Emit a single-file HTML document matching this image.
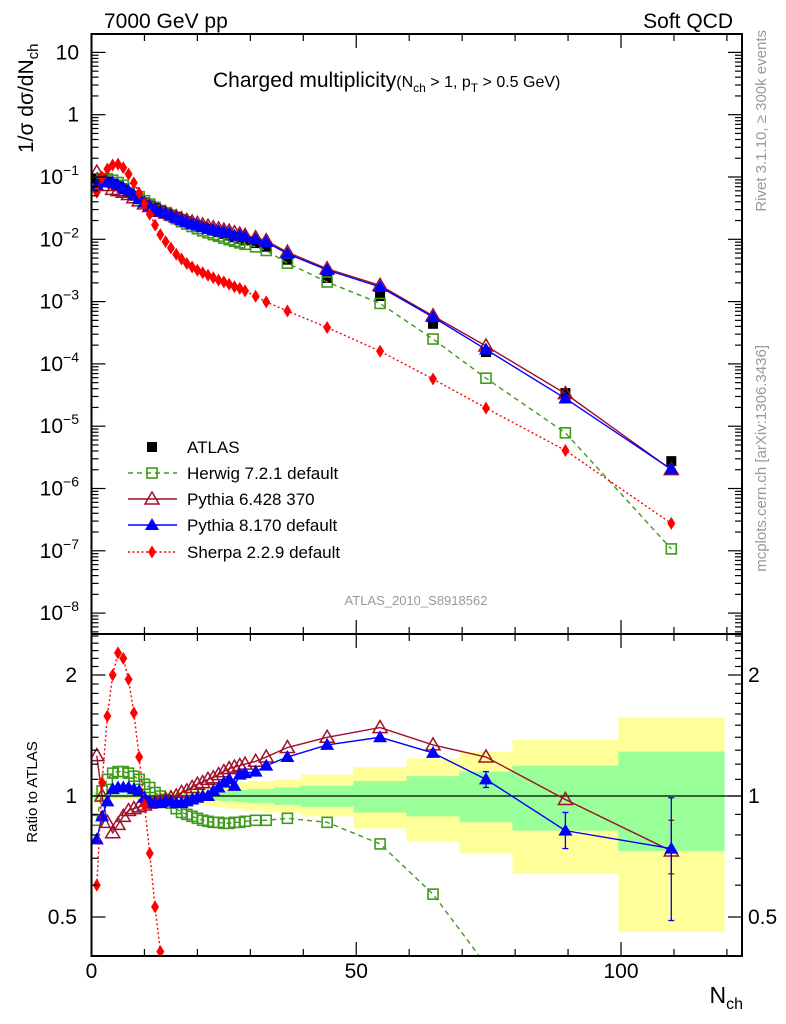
<!DOCTYPE html>
<html><head><meta charset="utf-8"><style>
html,body{margin:0;padding:0;background:#fff;width:786px;height:1024px;overflow:hidden;}
svg{display:block;font-family:"Liberation Sans",sans-serif;}
</style></head><body>
<svg id="c" width="786" height="1024" viewBox="0 0 786 1024" xmlns="http://www.w3.org/2000/svg">
<defs>
<clipPath id="cpTop"><rect x="91.5" y="34" width="650.5" height="600"/></clipPath>
<clipPath id="cpRat"><rect x="91.5" y="634" width="650.5" height="322"/></clipPath>
</defs>
<g id="bands" clip-path="url(#cpRat)"></g>
<g id="grid"></g>
<g id="topMarks" clip-path="url(#cpTop)"></g>
<g id="ratMarks" clip-path="url(#cpRat)"></g>
<g id="axes"></g>
<text x="104" y="28" font-size="21">7000 GeV pp</text>
<text x="733" y="28" font-size="21" text-anchor="end">Soft QCD</text>
<text x="213" y="87" font-size="21">Charged multiplicity<tspan font-size="16">(N</tspan><tspan font-size="12" dy="5">ch</tspan><tspan font-size="16" dy="-5"> &gt; 1, p</tspan><tspan font-size="12" dy="5">T</tspan><tspan font-size="16" dy="-5"> &gt; 0.5 GeV)</tspan></text>
<text transform="translate(33,153) rotate(-90)" font-size="21">1/σ dσ/dN<tspan font-size="15" dy="5">ch</tspan></text>
<text transform="translate(37,792) rotate(-90)" font-size="15" text-anchor="middle">Ratio to ATLAS</text>
<text transform="translate(766,30) rotate(-90)" font-size="15" fill="#999" text-anchor="end">Rivet 3.1.10, ≥ 300k events</text>
<text transform="translate(766,345) rotate(-90)" font-size="15" fill="#999" text-anchor="end">mcplots.cern.ch [arXiv:1306.3436]</text>
<text x="416" y="605" font-size="13" fill="#999" text-anchor="middle">ATLAS_2010_S8918562</text>
<text x="743" y="1003" font-size="23" text-anchor="end">N<tspan font-size="16" dy="6">ch</tspan></text>
<g id="legend"></g>
</svg>
<script>
const nch = [1,2,3,4,5,6,7,8,9,10,11,12,13,14,15,16,17,18,19,20,21,22,23,24,25,26,27,28,29,31,33,37,44.5,54.5,64.5,74.5,89.5,109.5];
const binLo = [0.5,1.5,2.5,3.5,4.5,5.5,6.5,7.5,8.5,9.5,10.5,11.5,12.5,13.5,14.5,15.5,16.5,17.5,18.5,19.5,20.5,21.5,22.5,23.5,24.5,25.5,26.5,27.5,28.5,29.5,32.5,34.5,39.5,49.5,59.5,69.5,79.5,99.5];
const binHi = [1.5,2.5,3.5,4.5,5.5,6.5,7.5,8.5,9.5,10.5,11.5,12.5,13.5,14.5,15.5,16.5,17.5,18.5,19.5,20.5,21.5,22.5,23.5,24.5,25.5,26.5,27.5,28.5,29.5,32.5,34.5,39.5,49.5,59.5,69.5,79.5,99.5,119.5];
const atlas = [0.095,0.092,0.085,0.078,0.071,0.064,0.057,0.050,0.044,0.039,0.035,0.032,0.029,0.027,0.025,0.023,0.021,0.0195,0.018,0.0168,0.0157,0.0147,0.0138,0.013,0.0122,0.0115,0.0108,0.0102,0.0096,0.0087,0.0076,0.0047,0.0024,0.00123,0.00044,0.000155,0.000034,0.00000275];
const rHerwig = [0.87,1.03,1.1,1.14,1.15,1.15,1.14,1.12,1.1,1.07,1.05,1.02,1.0,0.98,0.96,0.93,0.91,0.9,0.89,0.88,0.87,0.865,0.86,0.86,0.855,0.855,0.86,0.86,0.865,0.87,0.87,0.88,0.86,0.76,0.57,0.38,0.23,0.039];
const rPythia6 = [1.26,1.0,0.86,0.81,0.85,0.89,0.92,0.93,0.94,0.95,0.96,0.965,0.97,0.98,0.99,1.0,1.02,1.03,1.05,1.07,1.08,1.1,1.11,1.13,1.15,1.17,1.18,1.19,1.2,1.22,1.25,1.32,1.40,1.48,1.34,1.25,0.98,0.73];
const rPythia8 = [0.78,0.89,0.97,1.04,1.05,1.05,1.05,1.04,1.03,0.99,0.97,0.96,0.96,0.97,0.97,0.96,0.96,0.97,0.98,0.99,1.0,1.0,1.03,1.05,1.08,1.1,1.06,1.13,1.14,1.15,1.19,1.25,1.34,1.40,1.28,1.10,0.82,0.74];
const rSherpa = [0.6,1.08,1.58,2.0,2.27,2.2,1.95,1.61,1.25,0.95,0.72,0.53,0.41,0.34,0.29,0.25,0.23,0.21,0.2,0.19,0.185,0.18,0.175,0.17,0.17,0.165,0.16,0.16,0.155,0.14,0.13,0.15,0.16,0.13,0.13,0.126,0.12,0.10];
const yelUp = [1.04,1.02,1.02,1.02,1.02,1.02,1.02,1.02,1.02,1.02,1.02,1.02,1.02,1.03,1.03,1.03,1.04,1.04,1.04,1.05,1.05,1.05,1.06,1.06,1.06,1.07,1.07,1.08,1.08,1.09,1.09,1.1,1.13,1.18,1.24,1.29,1.38,1.57];
const yelDn = [0.96,0.98,0.98,0.98,0.98,0.98,0.98,0.98,0.98,0.98,0.98,0.98,0.98,0.97,0.97,0.97,0.96,0.96,0.96,0.95,0.95,0.95,0.94,0.94,0.94,0.93,0.93,0.93,0.92,0.92,0.91,0.91,0.89,0.83,0.77,0.72,0.64,0.46];
const grnUp = [1.02,1.01,1.01,1.01,1.01,1.01,1.01,1.01,1.01,1.01,1.01,1.01,1.01,1.01,1.01,1.01,1.015,1.015,1.015,1.02,1.02,1.02,1.025,1.025,1.03,1.03,1.03,1.035,1.035,1.04,1.04,1.05,1.06,1.09,1.12,1.15,1.19,1.29];
const grnDn = [0.98,0.99,0.99,0.99,0.99,0.99,0.99,0.99,0.99,0.99,0.99,0.99,0.99,0.99,0.99,0.99,0.985,0.985,0.985,0.98,0.98,0.98,0.975,0.975,0.97,0.97,0.97,0.965,0.965,0.96,0.96,0.95,0.94,0.91,0.89,0.86,0.82,0.73];
const p8ErrIdx = [35,36,37];
const p8ErrLo = [1.05,0.74,0.49];
const p8ErrHi = [1.15,0.91,0.99];
const p6ErrIdx = [37];
const p6ErrLo = [0.64];
const p6ErrHi = [0.87];
const xTicks = [0,50,100];
const rTicksMajor = [0.5,1,2];

const NS = "http://www.w3.org/2000/svg";
const X = n => 91.5 + n * 5.295;
const YT = v => 177 - (Math.log10(v) + 1) * 62.3;
const YR = r => 796 - Math.log2(r) * 121;
function mk(tag, attrs, parent){
  const e = document.createElementNS(NS, tag);
  for (const k in attrs) e.setAttribute(k, attrs[k]);
  parent.appendChild(e); return e;
}
const C = {
  herwig:{col:"#3f9a1c", dash:"5,4", mk:"sqo"},
  p6:{col:"#a0102a", dash:"", mk:"trio"},
  p8:{col:"#0000ff", dash:"", mk:"trif"},
  sherpa:{col:"#ff0000", dash:"2,2.5", mk:"dia"}
};
function marker(g, type, x, y, col){
  let e;
  if (type==="sqo") e = mk("rect",{x:x-5,y:y-5,width:10,height:10,fill:"none",stroke:col,"stroke-width":1.6},g);
  else if (type==="sqf") e = mk("rect",{x:x-5,y:y-5,width:10,height:10,fill:col},g);
  else if (type==="trio") e = mk("polygon",{points:`${x},${y-7} ${x-7},${y+5} ${x+7},${y+5}`,fill:"none",stroke:col,"stroke-width":1.5},g);
  else if (type==="trif") e = mk("polygon",{points:`${x},${y-7} ${x-7},${y+5} ${x+7},${y+5}`,fill:col},g);
  else e = mk("polygon",{points:`${x},${y-6.5} ${x-4},${y} ${x},${y+6.5} ${x+4},${y}`,fill:col},g);
  return e;
}
const topG = document.getElementById("topMarks");
const ratG = document.getElementById("ratMarks");
const bandG = document.getElementById("bands");

for (let i=0;i<nch.length;i++){
  const y = mk("rect",{x:X(binLo[i]),y:YR(yelUp[i]),width:X(binHi[i])-X(binLo[i])+0.3,height:YR(yelDn[i])-YR(yelUp[i]),fill:"#ffff99"},bandG);
  
  
}
for (let i=0;i<nch.length;i++){
  const g = mk("rect",{x:X(binLo[i]),y:YR(grnUp[i]),width:X(binHi[i])-X(binLo[i])+0.3,height:YR(grnDn[i])-YR(grnUp[i]),fill:"#99ff99"},bandG);
  
  
}
const one = mk("line",{x1:91.5,x2:742,y1:YR(1),y2:YR(1),stroke:"#000","stroke-width":1.2},bandG);



for (let i=0;i<nch.length;i++){
  const m = marker(topG,"sqf",X(nch[i]),YT(atlas[i]),"#000");
  
  
}
const series = [["herwig",rHerwig],["p6",rPythia6],["p8",rPythia8],["sherpa",rSherpa]];
for (const [key, r] of series){
  const c = C[key];
  const ptsT = nch.map((n,i)=>`${X(n)},${YT(atlas[i]*r[i])}`).join(" ");
  const lt = mk("polyline",{points:ptsT,fill:"none",stroke:c.col,"stroke-width":1.4,"stroke-dasharray":c.dash},topG);
  
  
  const ptsR = nch.map((n,i)=>`${X(n)},${YR(r[i])}`).join(" ");
  const lr = mk("polyline",{points:ptsR,fill:"none",stroke:c.col,"stroke-width":1.4,"stroke-dasharray":c.dash},ratG);
  
  
  for (let i=0;i<nch.length;i++){
    const m1 = marker(topG,c.mk,X(nch[i]),YT(atlas[i]*r[i]),c.col);
    
    
    const m2 = marker(ratG,c.mk,X(nch[i]),YR(r[i]),c.col);
    
    
  }
}
function ebar(g,x,y1,y2,col){
  mk("line",{x1:x,x2:x,y1:y1,y2:y2,stroke:col,"stroke-width":1.3},g);
  mk("line",{x1:x-3,x2:x+3,y1:y1,y2:y1,stroke:col,"stroke-width":1.3},g);
  mk("line",{x1:x-3,x2:x+3,y1:y2,y2:y2,stroke:col,"stroke-width":1.3},g);
}
p6ErrIdx.forEach((idx,k)=>ebar(ratG,X(nch[idx]),YR(p6ErrHi[k]),YR(p6ErrLo[k]),C.p6.col));
p8ErrIdx.forEach((idx,k)=>ebar(ratG,X(nch[idx]),YR(p8ErrHi[k]),YR(p8ErrLo[k]),C.p8.col));

const ax = document.getElementById("axes");


mk("rect",{x:91.5,y:34,width:650.5,height:600,fill:"none",stroke:"#000","stroke-width":2},ax);
mk("rect",{x:91.5,y:634,width:650.5,height:322,fill:"none",stroke:"#000","stroke-width":2},ax);
const L = 91.5, R = 742;
for (let d=-9; d<=1; d++){
  for (let m=1;m<=9;m++){
    const v = m*Math.pow(10,d);
    const y = YT(v);
    if (y<35 || y>633) continue;
    const len = m===1?14:7;
    mk("line",{x1:L,x2:L+len,y1:y,y2:y,stroke:"#000","stroke-width":1.2},ax);
    mk("line",{x1:R-len,x2:R,y1:y,y2:y,stroke:"#000","stroke-width":1.2},ax);
  }
  if (d>=-8){
    const y = YT(Math.pow(10,d));
    const t = mk("text",{x:79,y:y+7,"font-size":21,"text-anchor":"end"},ax);
    if (d===0) t.textContent="1";
    else if (d===1) t.textContent="10";
    else { t.textContent="10"; const s=mk("tspan",{"font-size":14,dy:-9},t); s.textContent="−"+(-d); }
    
    
  }
}
for (let n=0;n<=120;n+=10){
  const x = X(n), maj = n%50===0;
  const len = maj?14:7;
  mk("line",{x1:x,x2:x,y1:34,y2:34+len,stroke:"#000","stroke-width":1.2},ax);
  mk("line",{x1:x,x2:x,y1:634-len,y2:634,stroke:"#000","stroke-width":1.2},ax);
  mk("line",{x1:x,x2:x,y1:634,y2:634+len,stroke:"#000","stroke-width":1.2},ax);
  mk("line",{x1:x,x2:x,y1:956-len,y2:956,stroke:"#000","stroke-width":1.2},ax);
}
xTicks.forEach(n=>{
  const t = mk("text",{x:X(n),y:978,"font-size":21,"text-anchor":"middle"},ax);
  t.textContent = String(n);
  
  
});
for (let k=4;k<=25;k++){
  const r = k/10;
  if (r===1) continue;
  const y = YR(r);
  if (y<635||y>955) continue;
  const maj = rTicksMajor.includes(r);
  const len = maj?14:7;
  mk("line",{x1:L,x2:L+len,y1:y,y2:y,stroke:"#000","stroke-width":1.2},ax);
  mk("line",{x1:R-len,x2:R,y1:y,y2:y,stroke:"#000","stroke-width":1.2},ax);
}
mk("line",{x1:L,x2:L+14,y1:YR(1),y2:YR(1),stroke:"#000","stroke-width":1.2},ax);
mk("line",{x1:R-14,x2:R,y1:YR(1),y2:YR(1),stroke:"#000","stroke-width":1.2},ax);
rTicksMajor.forEach(r=>{
  const t1 = mk("text",{x:77,y:YR(r)+7,"font-size":21,"text-anchor":"end"},ax);
  t1.textContent = String(r);
  
  
  const t2 = mk("text",{x:748,y:YR(r)+7,"font-size":21},ax);
  t2.textContent = String(r);
  
  
});

const lg = document.getElementById("legend");
const entries = [["ATLAS",null,447],["Herwig 7.2.1 default","herwig",473],["Pythia 6.428 370","p6",499],["Pythia 8.170 default","p8",525],["Sherpa 2.2.9 default","sherpa",552]];
entries.forEach(([label,key,y])=>{
  const g = mk("g",{},lg);
  
  
  if (key){
    const c = C[key];
    mk("line",{x1:128,x2:177,y1:y,y2:y,stroke:c.col,"stroke-width":1.4,"stroke-dasharray":c.dash},g);
    marker(g,c.mk,152,y,c.col);
  } else marker(g,"sqf",152,y,"#000");
  const t = mk("text",{x:187,y:y+6,"font-size":17},g);
  t.textContent = label;
});
</script>
</body></html>
